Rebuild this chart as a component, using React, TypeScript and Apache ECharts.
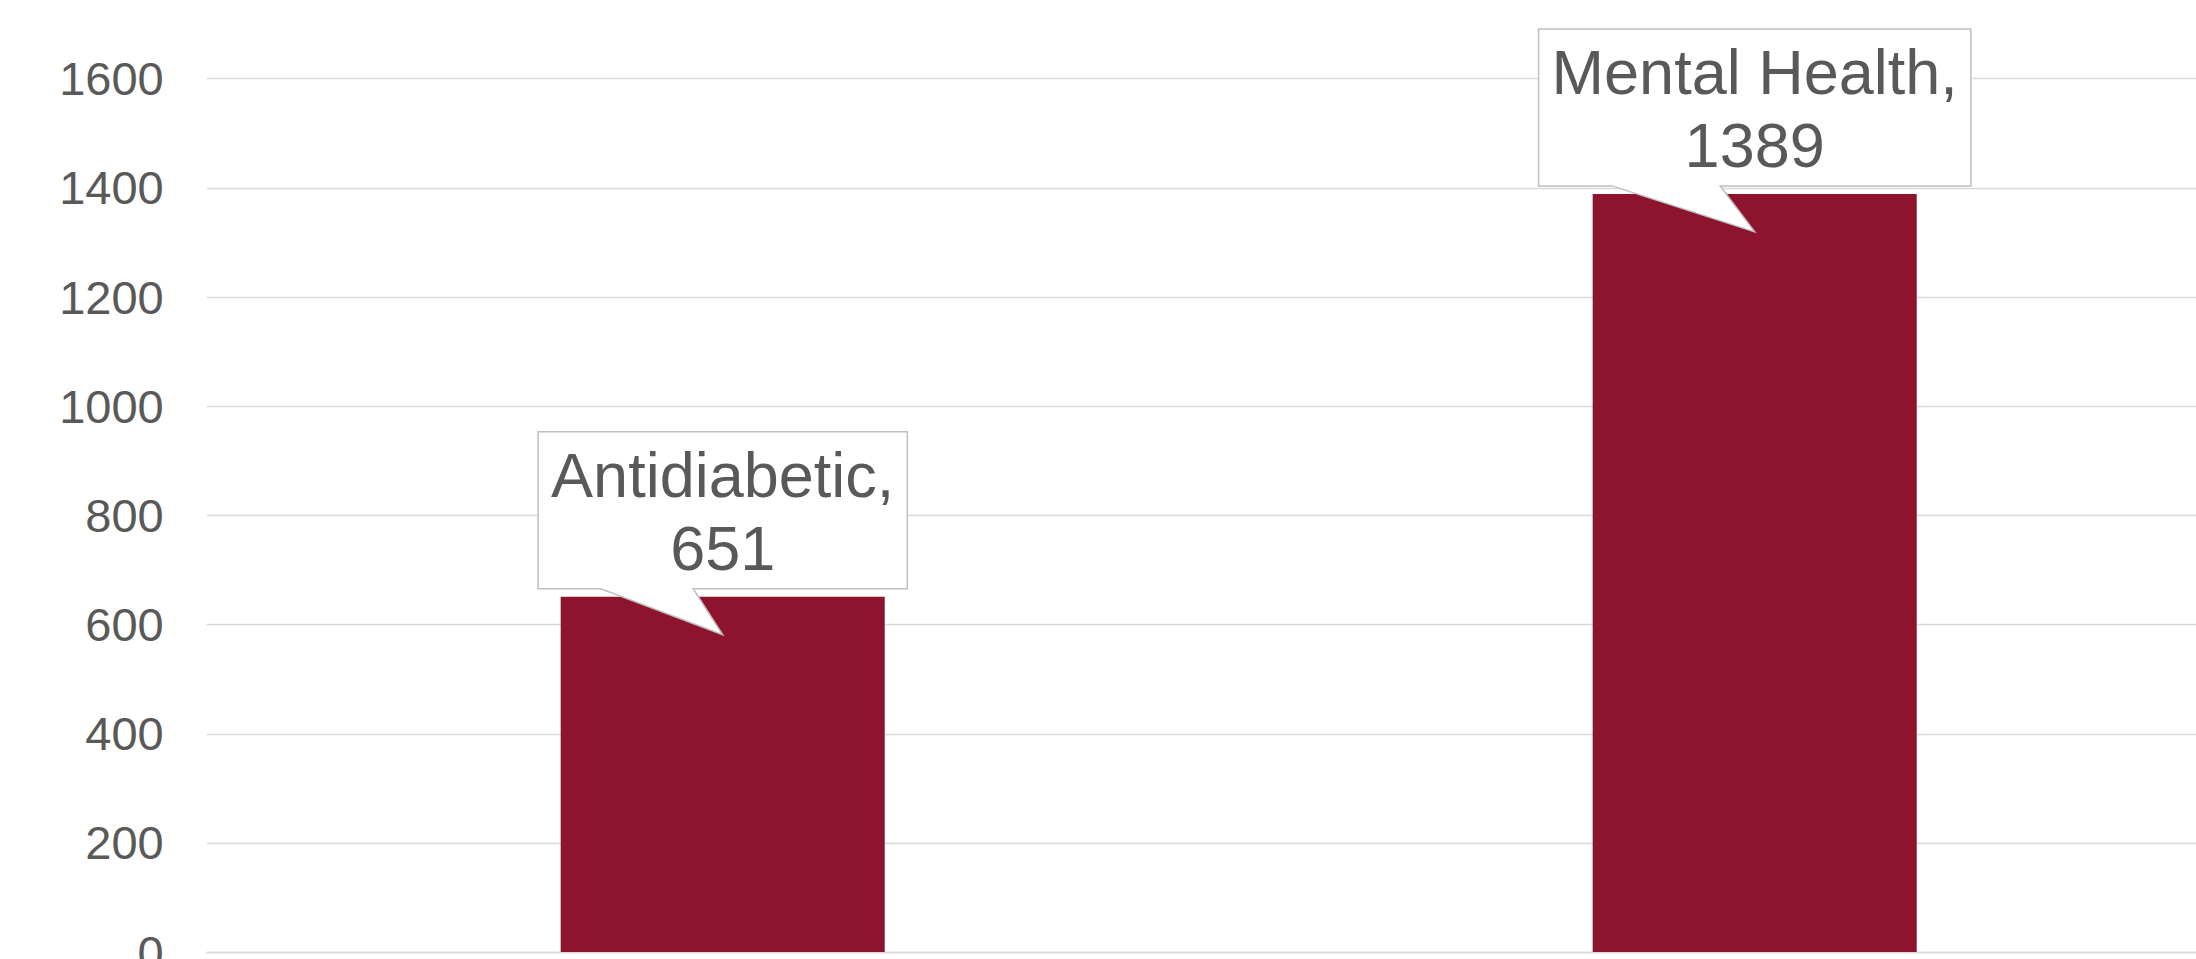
import React, { useEffect, useRef } from "react";
import * as echarts from "echarts";

const categories: string[] = ["Antidiabetic", "Mental Health"];
const values: number[] = [651, 1389];
const yMin = 0;
const yMax = 1600;
const yInterval = 200;

const FONT = '"Liberation Sans", Arial, Helvetica, sans-serif';
const TEXT_COLOR = "#595959";
const BAR_COLOR = "#8E142E";
const GRID_COLOR = "#d9d9d9";

export default function App() {
  const ref = useRef<HTMLDivElement>(null);

  useEffect(() => {
    if (!ref.current) return;
    const chart = echarts.init(ref.current, null, { renderer: "svg" });

    const labels = categories.map((c, i) => `${c},\n${values[i]}`);
    const canvas = document.createElement("canvas");
    const ctx = canvas.getContext("2d")!;
    ctx.font = `63px ${FONT}`;
    const widths = labels.map((t) =>
      Math.max(...t.split("\n").map((line) => ctx.measureText(line).width))
    );

    const calloutData = categories.map((_, i) => [i, values[i]]);

    const option: any = {
      animation: false,
      backgroundColor: "#ffffff",
      grid: {
        left: 206.7,
        top: 78.7,
        width: 2064,
        height: 873.4,
        containLabel: false,
        outerBoundsMode: "none",
      },
      xAxis: {
        type: "category",
        data: categories,
        axisLine: { show: true, lineStyle: { color: GRID_COLOR, width: 1.3 } },
        axisTick: { show: false },
        axisLabel: { show: false },
      },
      yAxis: {
        type: "value",
        min: yMin,
        max: yMax,
        interval: yInterval,
        axisLine: { show: false },
        axisTick: { show: false },
        splitLine: { lineStyle: { color: GRID_COLOR, width: 1.3 } },
        axisLabel: {
          fontSize: 47,
          color: TEXT_COLOR,
          fontFamily: FONT,
          margin: 43,
          formatter: (v: number) => String(v),
        },
      },
      series: [
        {
          type: "bar",
          data: values,
          barWidth: "31.4%",
          itemStyle: { color: BAR_COLOR },
        },
        {
          type: "custom",
          coordinateSystem: "cartesian2d",
          data: calloutData,
          encode: { x: 0, y: 1 },
          clip: false,
          z: 10,
          renderItem: (params: any, api: any) => {
            const idx = api.value(0);
            const v = api.value(1);
            const pt = api.coord([idx, v]);
            const cx = pt[0];
            const top = pt[1];
            const w = widths[params.dataIndex] + 26;
            const h = 157;
            const B = top - 8;
            const T = B - h;
            const L = cx - w / 2;
            const R = cx + w / 2;
            return {
              type: "group",
              children: [
                {
                  type: "polygon",
                  shape: {
                    points: [
                      [L, T],
                      [R, T],
                      [R, B],
                      [L + 0.42 * w, B],
                      [cx, top + 38],
                      [L + 0.17 * w, B],
                      [L, B],
                    ],
                  },
                  style: { fill: "#ffffff", stroke: "#bfbfbf", lineWidth: 1.5 },
                },
                {
                  type: "text",
                  x: cx,
                  y: T + h / 2 + 1,
                  style: {
                    text: labels[params.dataIndex],
                    align: "center",
                    verticalAlign: "middle",
                    fontSize: 63,
                    lineHeight: 73,
                    fontFamily: FONT,
                    fill: TEXT_COLOR,
                  },
                },
              ],
            };
          },
        },
      ],
    };

    chart.setOption(option);
    return () => chart.dispose();
  }, []);

  return (
    <div
      ref={ref}
      style={{ position: "absolute", left: 0, top: 0, width: 2196, height: 959 }}
    />
  );
}
